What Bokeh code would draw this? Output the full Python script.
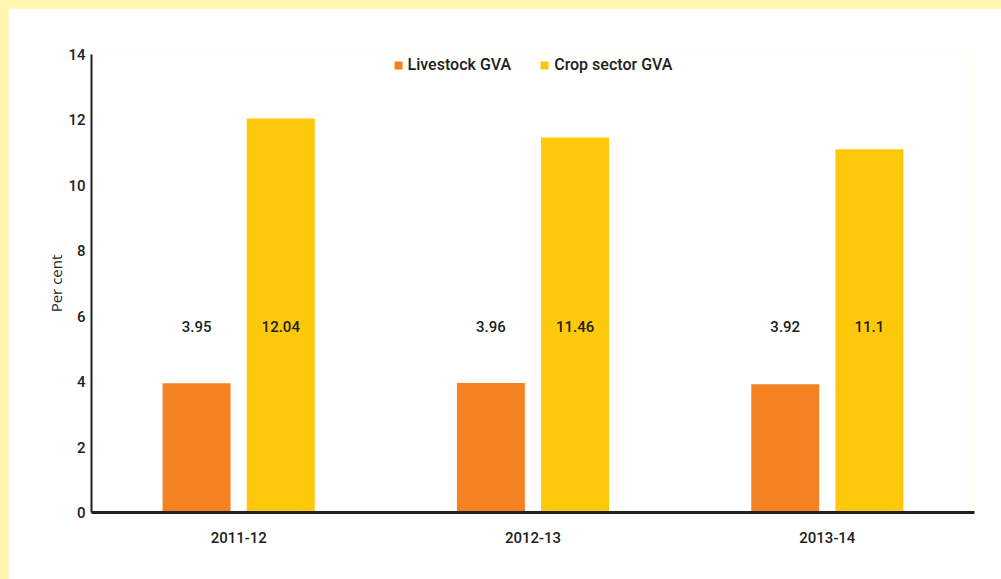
from bokeh.plotting import figure
from bokeh.models import ColumnDataSource, FactorRange, Range1d, Legend, LegendItem, GlobalInlineStyleSheet
from bokeh.transform import dodge
from bokeh.core.properties import value
from bokeh.embed import file_html
from bokeh.resources import INLINE

years = ["2011-12", "2012-13", "2013-14"]
livestock = [3.95, 3.96, 3.92]
crop = [12.04, 11.46, 11.1]
livestock_labels = ["3.95", "3.96", "3.92"]
crop_labels = ["12.04", "11.46", "11.1"]
label_y = [5.7, 5.7, 5.7]
y_ticks = [0, 2, 4, 6, 8, 10, 12, 14]

ORANGE = "#F58220"
YELLOW = "#FFC90B"
DARK = "#231F20"
FONT = "Roboto Medium"

src = ColumnDataSource(dict(years=years, livestock=livestock, crop=crop,
                            ll=livestock_labels, cl=crop_labels, ly=label_y))

p = figure(x_range=FactorRange(*years), y_range=Range1d(0, 14),
           width=993, height=571, output_backend="svg", toolbar_location=None,
           min_border_left=83, min_border_right=27, min_border_top=46, min_border_bottom=67)
p.background_fill_color = "white"
p.border_fill_color = "white"
p.outline_line_color = None
p.xgrid.grid_line_color = None
p.ygrid.grid_line_color = None

r1 = p.vbar(x=dodge("years", -0.143, range=p.x_range), top="livestock", width=0.231,
            source=src, fill_color=ORANGE, line_color=None)
r2 = p.vbar(x=dodge("years", 0.143, range=p.x_range), top="crop", width=0.231,
            source=src, fill_color=YELLOW, line_color=None)

for col, off in (("ll", -0.143), ("cl", 0.143)):
    p.text(x=dodge("years", off, range=p.x_range), y="ly", text=col, source=src,
           text_align="center", text_baseline="middle", text_font=value(FONT),
           text_font_size="15px", text_color=DARK)

p.yaxis.ticker = y_ticks
p.yaxis.axis_line_width = 2
p.yaxis.axis_line_color = DARK
p.yaxis.major_tick_line_color = None
p.yaxis.minor_tick_line_color = None
p.yaxis.major_label_standoff = 0
p.yaxis.major_label_text_font = FONT
p.yaxis.major_label_text_font_size = "15px"
p.yaxis.major_label_text_color = DARK
p.yaxis.axis_label = "Per cent"
p.yaxis.axis_label_text_font = "Open Sans"
p.yaxis.axis_label_text_font_style = "normal"
p.yaxis.axis_label_text_font_size = "15px"
p.yaxis.axis_label_text_color = DARK
p.yaxis.axis_label_standoff = -1

p.xaxis.axis_line_width = 3
p.xaxis.axis_line_color = DARK
p.xaxis.major_tick_line_color = None
p.xaxis.minor_tick_line_color = None
p.xaxis.major_label_standoff = 13
p.xaxis.major_label_text_font = FONT
p.xaxis.major_label_text_font_size = "15px"
p.xaxis.major_label_text_color = DARK

legend = Legend(items=[LegendItem(label="Livestock GVA", renderers=[r1]),
                       LegendItem(label="Crop sector GVA", renderers=[r2])],
                location="top_center", orientation="horizontal",
                border_line_color=None, background_fill_alpha=0,
                glyph_width=10, glyph_height=10, label_height=16,
                label_standoff=5, spacing=28, padding=0, margin=1,
                label_text_font=FONT, label_text_font_size="16px",
                label_text_color=DARK)
p.add_layout(legend)

p.stylesheets = [GlobalInlineStyleSheet(css="html, body { background: #FFF7B0; } body { padding: 8px 0 0 8px; }")]

open("out.html", "w").write(file_html(p, INLINE))
